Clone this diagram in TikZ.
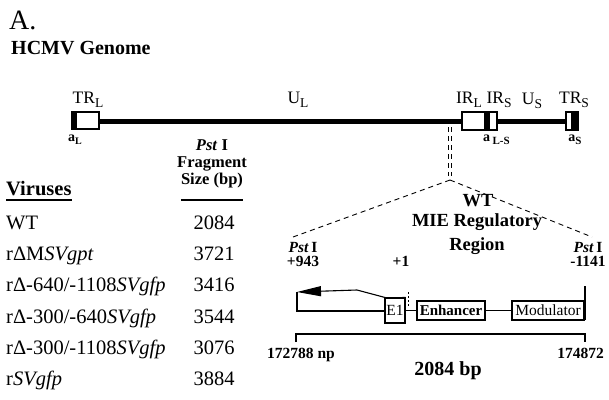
\documentclass[tikz,border=0pt]{standalone}
\usepackage{fontspec}
\setmainfont{Liberation Serif}
\usetikzlibrary{arrows.meta}
\newcommand{\fsz}[1]{\fontsize{#1}{#1}\selectfont}
\newcommand{\lsub}[1]{\raisebox{-0.5ex}{\fsz{13.5}#1}}
\begin{document}
\begin{tikzpicture}[x=1pt,y=-1pt,
  txt/.style={inner sep=0pt, font=\fsz{20.5}},
  lbl/.style={inner sep=0pt, font=\fsz{17.5}},
  blbl/.style={inner sep=0pt, font=\fsz{15.5}\bfseries},
  gbox/.style={draw, line width=1.2pt, fill=white},
  rbox/.style={draw, line width=1.1pt, inner sep=0pt, minimum height=19pt},
  conn/.style={line width=1.1pt},
  dashln/.style={dashed, line width=0.9pt, dash pattern=on 5pt off 4pt}]
\useasboundingbox (0,0) rectangle (609,399);

% title
\node[inner sep=0, anchor=base west, font=\fsz{28}] (title) at (9,29) {A.};
\node[inner sep=0, anchor=base west, font=\fsz{20}\bfseries] (genome) at (11,54) {HCMV Genome};

% genome line
\coordinate (g1) at (99,121);
\coordinate (g2) at (462,121);
\coordinate (g3) at (497,121);
\coordinate (g4) at (566,121);
\draw[line width=5pt] (g1) -- (g2);
\draw[line width=5pt] (g3) -- (g4);
% TRL
\draw[gbox] (72,112) rectangle (99,129);
\fill (72,112) rectangle (77,129);
% IRL IRS
\draw[gbox] (462,112) rectangle (497,130);
\fill (484,112) rectangle (490,130);
% TRS
\draw[gbox] (566,112) rectangle (578,130);
\fill (571,112) rectangle (578,130);

% genome labels
\node[lbl, anchor=base] (trl) at (88,103) {TR\lsub{L}};
\node[lbl, anchor=base] (ul) at (298,103) {U\lsub{L}};
\node[lbl, anchor=base] (irl) at (469,103) {IR\lsub{L}};
\node[lbl, anchor=base] (irs) at (499,103) {IR\lsub{S}};
\node[lbl, anchor=base] (us) at (532,104) {U\lsub{S}};
\node[lbl, anchor=base] (trs) at (574,103) {TR\lsub{S}};
\node[inner sep=0, anchor=base, font=\fsz{14}\bfseries] (al) at (75,141) {a\lsub{\fsz{10}L}};
\node[inner sep=0, anchor=base west, font=\fsz{14}\bfseries] (als) at (483,141) {a\,\lsub{\fsz{11}L-S}};
\node[inner sep=0, anchor=base, font=\fsz{14}\bfseries] (as) at (575,141) {a\lsub{\fsz{11}S}};

% zoom lines
\coordinate (zt) at (450,127);
\coordinate (zb) at (450,176);
\coordinate (apex) at (450,180);
\coordinate (zl) at (293,237);
\coordinate (zr) at (592,237);
\draw[dashln, double, double distance=1.6pt, line width=0.8pt] (zt) -- (zb);
\draw[dashln] (apex) -- (zl);
\draw[dashln] (apex) -- (zr);

% WT MIE
\node[inner sep=0, anchor=base, font=\fsz{18.5}\bfseries] (wt) at (478,206) {WT};
\node[inner sep=0, anchor=base, font=\fsz{18.5}\bfseries] (mie) at (477,226) {MIE Regulatory};
\node[inner sep=0, anchor=base, font=\fsz{18.5}\bfseries] (reg) at (477,250) {Region};

% Pst labels
\node[blbl, anchor=base] (pl) at (303,252) {\textit{Pst}\,I};
\node[blbl, anchor=base] (p943) at (303,266) {+943};
\node[blbl, anchor=base] (p1) at (401,266) {+1};
\node[blbl, anchor=base] (pr) at (588,252) {\textit{Pst}\,I};
\node[blbl, anchor=base] (p1141) at (588,266) {-1141};

% regulatory region
\node[rbox, minimum width=20pt, minimum height=25pt, font=\fsz{15.5}] (e1) at (395,310.5) {E1};
\node[rbox, minimum width=68pt, font=\fsz{15}\bfseries] (enh) at (451,310.5) {Enhancer};
\node[rbox, minimum width=72pt, font=\fsz{15.5}] (mod) at (548,310.5) {Modulator};
\coordinate (tip) at (297,292);
\coordinate (lc) at (297,311);
\coordinate (bend1) at (387,298);
\coordinate (bend2) at (357,290);
\coordinate (rtop) at (585,286);
\coordinate (rbot) at (585,320);
\draw[conn, -{Triangle[length=24pt,width=10pt]}] (e1.north east) -- (bend1) -- (bend2) -- (tip);
\draw[conn] (tip) -- (lc) -- (lc -| e1.west);
\draw[conn] (e1.east |- 0,310.5) -- (enh.west);
\draw[conn] (enh.east) -- (mod.west);
\draw[conn] (rtop) -- (rbot);
\draw[line width=1pt, dash pattern=on 2pt off 2pt] (408,292) -- (408,306);

% bracket
\coordinate (b1) at (296,342);
\coordinate (b2) at (296,334);
\coordinate (b3) at (585,334);
\coordinate (b4) at (585,342);
\draw[conn] (b1) -- (b2) -- (b3) -- (b4);
\node[blbl, anchor=base west] (np1) at (267,358) {172788 np};
\node[blbl, anchor=base east] (np2) at (604,358) {174872};
\node[inner sep=0, anchor=base, font=\fsz{20}\bfseries] (bp) at (448,375) {2084 bp};

% table headers
\node[inner sep=0, anchor=base west, font=\fsz{20.5}\bfseries] (vir) at (6,195) {Viruses};
\draw[line width=2pt] (vir.base west |- 0,200) -- (vir.base east |- 0,200);
\node[inner sep=0, anchor=base, font=\fsz{16.5}\bfseries] (h1) at (212,150) {\textit{Pst} I};
\node[inner sep=0, anchor=base, font=\fsz{16.5}\bfseries] (h2) at (212,167) {Fragment};
\node[inner sep=0, anchor=base, font=\fsz{16.5}\bfseries] (h3) at (212,184) {Size (bp)};
\draw[line width=2pt] (h3.base west |- 0,200) -- (h3.base east |- 0,200);

% rows
\node[txt, anchor=base west] (n1) at (6,229) {WT};
\node[txt, anchor=base west] (n2) at (6,260) {rΔM\textit{SVgpt}};
\node[txt, anchor=base west] (n3) at (6,291) {rΔ-640/-1108\textit{SVgfp}};
\node[txt, anchor=base west] (n4) at (6,323) {rΔ-300/-640\textit{SVgfp}};
\node[txt, anchor=base west] (n5) at (6,354) {rΔ-300/-1108\textit{SVgfp}};
\node[txt, anchor=base west] (n6) at (6,385) {r\textit{SVgfp}};
\node[txt, anchor=base] (s1) at (214,229) {2084};
\node[txt, anchor=base] (s2) at (214,260) {3721};
\node[txt, anchor=base] (s3) at (214,291) {3416};
\node[txt, anchor=base] (s4) at (214,323) {3544};
\node[txt, anchor=base] (s5) at (214,354) {3076};
\node[txt, anchor=base] (s6) at (214,385) {3884};
\end{tikzpicture}
\end{document}
